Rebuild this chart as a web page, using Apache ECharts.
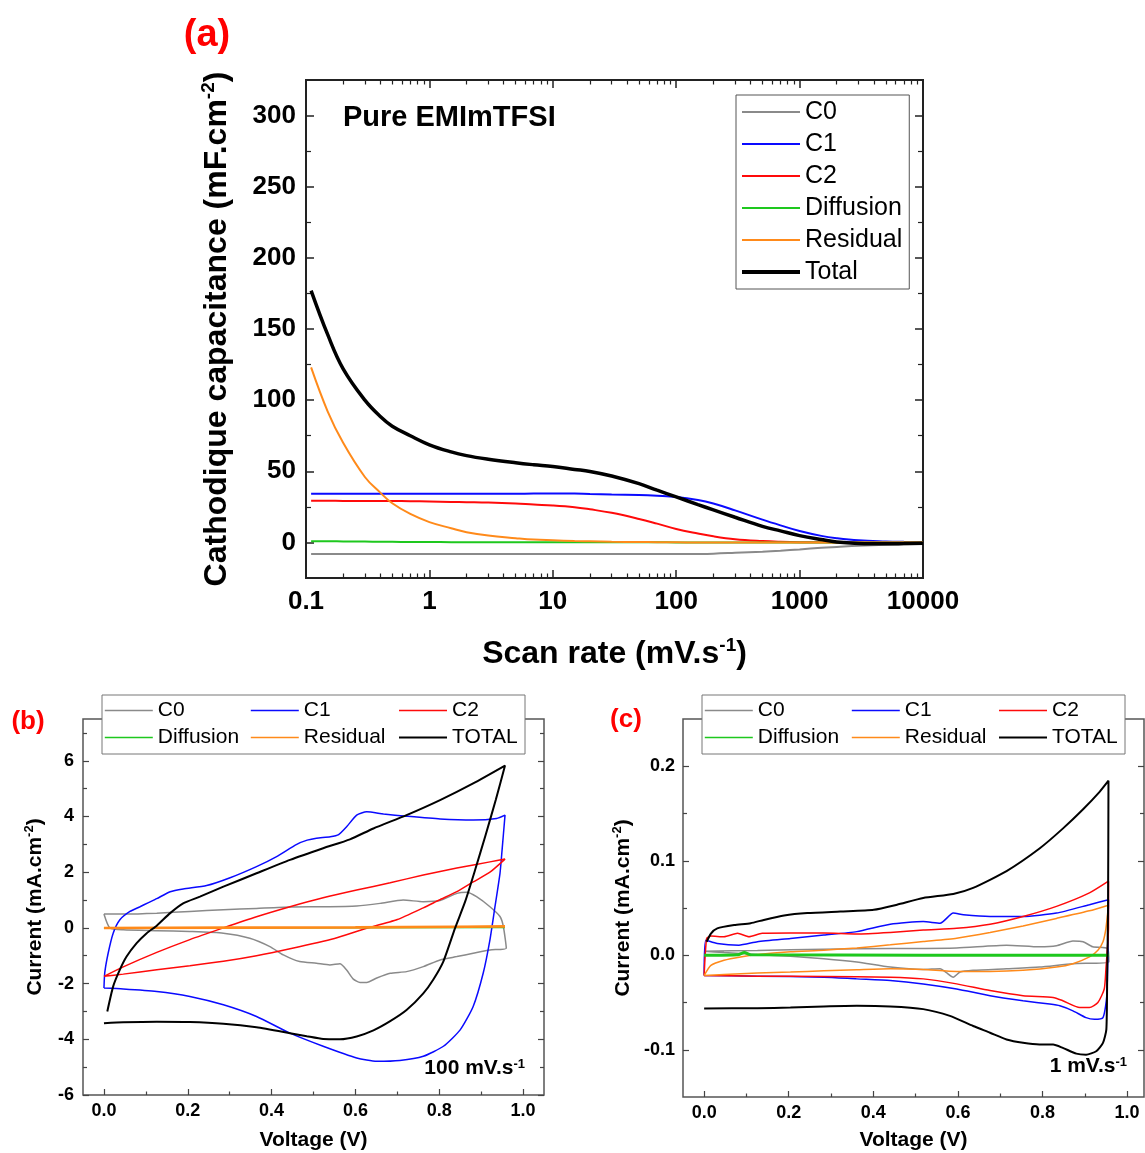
<!DOCTYPE html>
<html><head><meta charset="utf-8">
<script src="https://cdn.jsdelivr.net/npm/echarts@6/dist/echarts.min.js"></script>
<style>html,body{margin:0;padding:0;background:#fff}#chart{width:1145px;height:1153px}</style>
</head><body><div id="chart"></div>
<script>
const FONT = '"Liberation Sans", Arial, Helvetica, sans-serif';

// ---------- Panel (a): capacitance vs scan rate ----------
const scanRates = [0.11,0.15,0.2,0.3,0.4,0.5,0.7,1,1.5,2,3,5,7,10,15,20,30,50,70,100,150,200,300,500,700,1000,1500,2000,3000,5000,7000,10000];
const a_C0   = [-8.2,-8.2,-8.2,-8.2,-8.2,-8.2,-8.2,-8.2,-8.2,-8.2,-8.2,-8.2,-8.2,-8.2,-8.2,-8.2,-8.2,-8.2,-8.2,-8.2,-8.1,-7.9,-7.3,-6.5,-5.8,-4.9,-3.8,-3.2,-2.4,-1.7,-1.3,-0.9];
const a_C1   = [34.2,34.2,34.2,34.2,34.2,34.2,34.2,34.2,34.2,34.2,34.2,34.2,34.3,34.4,34.3,34.0,33.7,33.3,32.8,32.0,29.8,27.3,22.5,16.0,12.0,8.0,4.6,3.0,1.5,0.7,0.4,0.2];
const a_C2   = [29.3,29.3,29.2,29.2,29.1,29.1,29.0,28.8,28.5,28.3,28.0,27.3,26.6,26.0,24.8,23.3,20.8,16.5,13.2,9.5,6.3,4.3,2.3,1.0,0.5,0.2,0.1,0,0,0,0,0];
const a_Diff = [0.8,0.8,0.7,0.6,0.5,0.4,0.3,0.3,0.2,0.2,0.2,0.1,0.1,0.1,0.1,0.1,0.1,0.1,0.1,0,0,0,0,0,0,0,0,0,0,0,0,0];
const a_Res  = [123,92,70,46,35,27.5,20,14.3,10,7.2,4.8,3.0,2.0,1.5,1.0,0.8,0.5,0.3,0.2,0.1,0,0,0,0,0,0,0,0,0,0,0,0];
const a_Tot  = [177,146,122,100,88.5,81.7,75,68.6,63.6,61,58.5,56,54.6,53.3,51.3,49.9,46.7,41.3,36.7,32,26.6,22.9,17.7,11.3,8.1,4.8,2.0,0.3,-0.7,-1,-0.8,-0.5];
const aXMajor = [0.1,1,10,100,1000,10000];
const aYMajor = [0,50,100,150,200,250,300];
const aYMinor = [25,75,125,175,225,275];

// ---------- Panel (b): CV at 100 mV/s, [V, I] ----------
const b_C0 = [[0,0.50],[0.05,0.50],[0.126,0.53],[0.205,0.59],[0.285,0.65],[0.364,0.70],[0.444,0.75],[0.523,0.76],[0.603,0.79],[0.659,0.88],[0.714,1.0],[0.762,0.94],[0.802,0.98],[0.842,1.24],[0.866,1.28],[0.889,1.12],[0.921,0.76],[0.945,0.41],[0.953,0.05],[0.96,-0.73],
  [0.921,-0.79],[0.881,-0.91],[0.842,-1.03],[0.802,-1.15],[0.762,-1.39],[0.722,-1.57],[0.683,-1.63],[0.651,-1.80],[0.627,-1.96],[0.611,-1.96],[0.595,-1.84],[0.579,-1.51],[0.563,-1.29],[0.539,-1.33],[0.507,-1.27],[0.467,-1.21],[0.428,-0.97],[0.396,-0.67],[0.348,-0.37],[0.285,-0.19],[0.205,-0.13],[0.126,-0.10],[0.046,-0.07],[0.014,0],[0,0.50]];
const b_C1 = [[0,-2.16],[0.002,-1.6],[0.010,-0.91],[0.022,-0.19],[0.038,0.29],[0.062,0.59],[0.086,0.76],[0.105,0.9],[0.126,1.05],[0.158,1.30],[0.189,1.40],[0.245,1.52],[0.301,1.80],[0.364,2.20],[0.412,2.56],[0.46,3.0],[0.485,3.15],[0.507,3.22],[0.540,3.27],[0.560,3.35],[0.579,3.63],[0.603,4.05],[0.627,4.17],[0.667,4.09],[0.722,4.01],[0.802,3.91],[0.881,3.87],[0.937,3.93],[0.957,4.05],
  [0.950,2.8],[0.945,1.96],[0.933,0.76],[0.921,-0.43],[0.905,-1.62],[0.881,-2.82],[0.85,-3.66],[0.81,-4.25],[0.762,-4.61],[0.706,-4.76],[0.651,-4.79],[0.603,-4.67],[0.523,-4.25],[0.444,-3.78],[0.364,-3.18],[0.285,-2.76],[0.205,-2.46],[0.126,-2.28],[0.046,-2.19],[0,-2.16]];
const b_C2 = [[0,-1.74],[0.046,-1.4],[0.126,-0.88],[0.205,-0.42],[0.285,0.0],[0.364,0.4],[0.444,0.76],[0.523,1.08],[0.603,1.36],[0.683,1.62],[0.762,1.9],[0.842,2.15],[0.921,2.37],[0.957,2.47],
  [0.921,2.0],[0.881,1.65],[0.842,1.3],[0.8,1.0],[0.762,0.72],[0.7,0.3],[0.619,-0.05],[0.55,-0.38],[0.444,-0.75],[0.364,-1.0],[0.285,-1.2],[0.205,-1.36],[0.126,-1.5],[0.046,-1.66],[0,-1.74]];
const b_Diff = [[0,0],[0.957,0.01]];
const b_Res = [[0,0],[0.3,0.01],[0.6,0.02],[0.957,0.05],[0.6,0.01],[0,0]];
const b_Tot = [[0.008,-3.0],[0.022,-2.1],[0.038,-1.5],[0.054,-1.03],[0.078,-0.55],[0.102,-0.19],[0.126,0.08],[0.158,0.53],[0.189,0.88],[0.229,1.12],[0.285,1.48],[0.364,1.96],[0.444,2.44],[0.523,2.86],[0.587,3.18],[0.643,3.57],[0.722,4.05],[0.802,4.59],[0.881,5.19],[0.957,5.83],
  [0.935,4.6],[0.91,3.3],[0.885,2.05],[0.862,0.95],[0.838,0],[0.81,-1.2],[0.786,-1.85],[0.762,-2.35],[0.722,-2.95],[0.683,-3.35],[0.643,-3.68],[0.603,-3.9],[0.563,-4.0],[0.523,-3.99],[0.484,-3.89],[0.444,-3.78],[0.364,-3.57],[0.285,-3.44],[0.205,-3.38],[0.126,-3.37],[0.046,-3.39],[0,-3.42]];

// ---------- Panel (c): CV at 1 mV/s, [V, I] ----------
const c_C0 = [[0,0.0043],[0.126,0.005],[0.283,0.0064],[0.44,0.0071],[0.597,0.0078],[0.715,0.0107],[0.793,0.0089],[0.833,0.010],[0.872,0.015],[0.896,0.0143],[0.919,0.0089],[0.954,0.0071],[0.957,-0.0071],
  [0.872,-0.0089],[0.793,-0.0125],[0.715,-0.0143],[0.636,-0.016],[0.605,-0.0178],[0.589,-0.0232],[0.573,-0.0185],[0.558,-0.0143],[0.518,-0.015],[0.44,-0.0125],[0.361,-0.0071],[0.283,-0.0036],[0.204,-0.0011],[0.126,0.0007],[0.047,0.0029],[0,0.0043]];
const c_C1 = [[0,-0.0214],[0.004,0.016],[0.031,0.0125],[0.082,0.0107],[0.126,0.0143],[0.204,0.0178],[0.283,0.0214],[0.361,0.025],[0.44,0.0328],[0.518,0.0357],[0.558,0.0339],[0.589,0.0446],[0.613,0.0428],[0.676,0.041],[0.754,0.041],[0.833,0.0446],[0.911,0.0535],[0.956,0.0588],
  [0.955,0.0143],[0.952,-0.0428],[0.943,-0.066],[0.923,-0.0677],[0.903,-0.066],[0.872,-0.0588],[0.841,-0.0535],[0.817,-0.0517],[0.754,-0.0481],[0.676,-0.0428],[0.597,-0.0357],[0.518,-0.0303],[0.44,-0.0267],[0.361,-0.025],[0.283,-0.0232],[0.126,-0.0221],[0,-0.0214]];
const c_C2 = [[0,-0.0214],[0.006,0.0178],[0.016,0.0203],[0.047,0.0196],[0.079,0.0232],[0.106,0.0196],[0.137,0.0232],[0.204,0.0235],[0.283,0.0235],[0.361,0.0225],[0.44,0.0242],[0.518,0.0267],[0.597,0.0285],[0.676,0.0328],[0.754,0.041],[0.833,0.0517],[0.911,0.066],[0.956,0.0784],
  [0.956,0.0285],[0.95,-0.0143],[0.946,-0.0357],[0.931,-0.05],[0.911,-0.0553],[0.888,-0.0553],[0.848,-0.0481],[0.825,-0.0446],[0.754,-0.0428],[0.676,-0.0374],[0.597,-0.0303],[0.518,-0.025],[0.44,-0.0232],[0.283,-0.0225],[0.126,-0.0221],[0,-0.0214]];
const c_Diff = [[0,0],[0.08,0.0005],[0.095,0.003],[0.11,0.0005],[0.957,0]];
const c_Res = [[0,-0.0214],[0.016,-0.0107],[0.047,-0.0053],[0.086,-0.0018],[0.126,0.0007],[0.204,0.0036],[0.283,0.0053],[0.361,0.0078],[0.44,0.011],[0.518,0.0145],[0.597,0.018],[0.676,0.024],[0.754,0.031],[0.833,0.039],[0.911,0.047],[0.956,0.053],
  [0.95,0.0285],[0.943,0.0143],[0.931,0.0053],[0.911,-0.0018],[0.872,-0.0089],[0.833,-0.0125],[0.754,-0.016],[0.676,-0.0171],[0.597,-0.0171],[0.518,-0.015],[0.44,-0.0143],[0.361,-0.0153],[0.283,-0.0164],[0.204,-0.0178],[0.126,-0.0189],[0.047,-0.0203],[0,-0.0214]];
const c_Tot = [[0.006,0.0143],[0.016,0.023],[0.031,0.0285],[0.071,0.032],[0.11,0.0339],[0.141,0.0374],[0.189,0.042],[0.244,0.0446],[0.322,0.0463],[0.401,0.0481],[0.456,0.0535],[0.518,0.0606],[0.589,0.0649],[0.636,0.0713],[0.715,0.0891],[0.793,0.113],[0.848,0.134],[0.896,0.1545],[0.935,0.1729],[0.956,0.1847],
  [0.955,0.05],[0.953,-0.02],[0.951,-0.0784],[0.943,-0.0927],[0.927,-0.1016],[0.903,-0.1052],[0.88,-0.1041],[0.848,-0.098],[0.825,-0.0945],[0.793,-0.0945],[0.754,-0.0927],[0.715,-0.0891],[0.676,-0.082],[0.636,-0.0749],[0.581,-0.0642],[0.518,-0.057],[0.44,-0.0542],[0.361,-0.0535],[0.283,-0.0542],[0.204,-0.0553],[0.126,-0.056],[0,-0.0563]];

const vMajor = [0,0.2,0.4,0.6,0.8,1.0];
const vMinor = [0.1,0.3,0.5,0.7,0.9];
const bYMajor = [-6,-4,-2,0,2,4,6];
const bYMinor = [-5,-3,-1,1,3,5,7];
const cYMajor = [-0.1,0,0.1,0.2];
const cYMinor = [-0.05,0.05,0.15];

const COL = {C0:'#8a8a8a', C1:'#0a0aff', C2:'#ff0a0a', Diffusion:'#1ec81e', Residual:'#ff8a1a', Total:'#000000', TOTAL:'#000000'};

// log-axis minor tick positions (2..9 per decade)
const aXMinor = [];
[0.1,1,10,100,1000].forEach(d => { for (let k = 2; k <= 9; k++) aXMinor.push(+(k*d).toPrecision(6)); });

function mkAxis(o) {
  const ax = {
    gridIndex: o.grid, type: o.type || 'value', position: o.pos, min: o.min, max: o.max,
    axisLine: {show: false, onZero: false},
    splitLine: {show: false},
    axisTick: {show: true, inside: true, length: o.len, customValues: o.ticks, lineStyle: {color: o.color, width: o.tw}},
    axisLabel: o.labels ? {show: true, customValues: o.ticks, color: '#000', fontFamily: FONT, fontWeight: 'bold', fontSize: o.fs, margin: o.margin, formatter: o.fmt} : {show: false}
  };
  if (o.type === 'log') ax.logBase = 10;
  if (o.name) {
    ax.name = o.name; ax.nameLocation = 'middle'; ax.nameGap = o.nameGap;
    ax.nameTextStyle = {fontFamily: FONT, fontWeight: 'bold', fontSize: o.nfs, color: '#000', lineHeight: o.nfs * 1.15,
      rich: {sup: {fontFamily: FONT, fontWeight: 'bold', fontSize: Math.round(o.nfs * 0.6), color: '#000', verticalAlign: 'top', lineHeight: o.nfs * 1.15}}};
  }
  return ax;
}

const xAxes = [], yAxes = [];
const logFmt = v => String(parseFloat((+v).toPrecision(6)));
// panel a
xAxes.push(mkAxis({grid:0, type:'log', pos:'bottom', min:0.1, max:10000, ticks:aXMajor, len:8, color:'#222', tw:1.5, labels:true, fs:26, margin:11, fmt:logFmt, name:'Scan rate (mV.s{sup|-1})', nameGap:58, nfs:32}));
xAxes.push(mkAxis({grid:0, type:'log', pos:'bottom', min:0.1, max:10000, ticks:aXMinor, len:4.5, color:'#222', tw:1.2}));
xAxes.push(mkAxis({grid:0, type:'log', pos:'top', min:0.1, max:10000, ticks:aXMajor, len:8, color:'#222', tw:1.5}));
xAxes.push(mkAxis({grid:0, type:'log', pos:'top', min:0.1, max:10000, ticks:aXMinor, len:4.5, color:'#222', tw:1.2}));
yAxes.push(mkAxis({grid:0, pos:'left', min:-25, max:325, ticks:aYMajor, len:8, color:'#222', tw:1.5, labels:true, fs:26, margin:10, fmt: v => String(v), name:'Cathodique capacitance (mF.cm{sup|-2})', nameGap:70, nfs:32}));
yAxes.push(mkAxis({grid:0, pos:'left', min:-25, max:325, ticks:aYMinor, len:5, color:'#222', tw:1.2}));
yAxes.push(mkAxis({grid:0, pos:'right', min:-25, max:325, ticks:aYMajor, len:8, color:'#222', tw:1.5}));
yAxes.push(mkAxis({grid:0, pos:'right', min:-25, max:325, ticks:aYMinor, len:5, color:'#222', tw:1.2}));
// panel b
xAxes.push(mkAxis({grid:1, pos:'bottom', min:-0.05, max:1.05, ticks:vMajor, len:6, color:'#444', tw:1.2, labels:true, fs:18, margin:7, fmt: v => (+v).toFixed(1), name:'Voltage (V)', nameGap:33, nfs:21}));
xAxes.push(mkAxis({grid:1, pos:'bottom', min:-0.05, max:1.05, ticks:vMinor, len:3.5, color:'#444', tw:1.2}));
yAxes.push(mkAxis({grid:1, pos:'left', min:-6, max:7.5, ticks:bYMajor, len:6, color:'#444', tw:1.2, labels:true, fs:18, margin:9, fmt: v => String(Math.round(v)), name:'Current (mA.cm{sup|-2})', nameGap:36, nfs:21}));
yAxes.push(mkAxis({grid:1, pos:'left', min:-6, max:7.5, ticks:bYMinor, len:4, color:'#444', tw:1.2}));
yAxes.push(mkAxis({grid:1, pos:'right', min:-6, max:7.5, ticks:bYMajor, len:6, color:'#444', tw:1.2}));
yAxes.push(mkAxis({grid:1, pos:'right', min:-6, max:7.5, ticks:bYMinor, len:4, color:'#444', tw:1.2}));
// panel c
xAxes.push(mkAxis({grid:2, pos:'bottom', min:-0.05, max:1.04, ticks:vMajor, len:6, color:'#444', tw:1.2, labels:true, fs:18, margin:7, fmt: v => (+v).toFixed(1), name:'Voltage (V)', nameGap:31, nfs:21}));
xAxes.push(mkAxis({grid:2, pos:'bottom', min:-0.05, max:1.04, ticks:vMinor, len:3.5, color:'#444', tw:1.2}));
yAxes.push(mkAxis({grid:2, pos:'left', min:-0.15, max:0.25, ticks:cYMajor, len:6, color:'#444', tw:1.2, labels:true, fs:18, margin:8, fmt: v => (+v).toFixed(1), name:'Current (mA.cm{sup|-2})', nameGap:48, nfs:21}));
yAxes.push(mkAxis({grid:2, pos:'left', min:-0.15, max:0.25, ticks:cYMinor, len:4, color:'#444', tw:1.2}));
yAxes.push(mkAxis({grid:2, pos:'right', min:-0.15, max:0.25, ticks:cYMajor, len:6, color:'#444', tw:1.2}));
yAxes.push(mkAxis({grid:2, pos:'right', min:-0.15, max:0.25, ticks:cYMinor, len:4, color:'#444', tw:1.2}));

function line(name, data, xi, yi, width, smooth, z) {
  return {type:'line', name, data, xAxisIndex:xi, yAxisIndex:yi, symbol:'none', showSymbol:false, smooth: smooth,
    lineStyle:{color:COL[name], width}, itemStyle:{color:COL[name]}, z: z || 2, animation:false, silent:true};
}
const zipA = arr => scanRates.map((r, i) => [r, arr[i]]);

const series = [
  line('C0', zipA(a_C0), 0, 0, 2, 0.4),
  line('C1', zipA(a_C1), 0, 0, 2, 0.4),
  line('C2', zipA(a_C2), 0, 0, 2, 0.4),
  line('Diffusion', zipA(a_Diff), 0, 0, 2, 0.4),
  line('Residual', zipA(a_Res), 0, 0, 2, 0.4),
  line('Total', zipA(a_Tot), 0, 0, 3.5, 0.4, 3),

  line('C0', b_C0, 4, 4, 1.5, 0.2),
  line('C1', b_C1, 4, 4, 1.5, 0.2),
  line('C2', b_C2, 4, 4, 1.5, 0.2),
  line('Diffusion', b_Diff, 4, 4, 1.5, false),
  line('Residual', b_Res, 4, 4, 2.5, false),
  line('TOTAL', b_Tot, 4, 4, 2, 0.2, 3),

  line('C0', c_C0, 6, 8, 1.5, 0.2),
  line('C1', c_C1, 6, 8, 1.5, 0.2),
  line('C2', c_C2, 6, 8, 1.5, 0.2),
  line('Residual', c_Res, 6, 8, 1.5, 0.2),
  line('Diffusion', c_Diff, 6, 8, 3, 0.2),
  line('TOTAL', c_Tot, 6, 8, 2, 0.2, 3)
];

const legItem = (name, w) => ({name, lineStyle: {width: w, color: COL[name]}});

function smallLegend(names, left) {
  return {data: names.map(n => legItem(n, n === 'TOTAL' ? 2 : 1.6)), orient:'vertical', left, top: 697, itemWidth: 48, itemHeight: 10, itemGap: 0, padding: 0,
    selectedMode: false, z: 60, itemStyle: {opacity: 0},
    textStyle: {fontFamily: FONT, fontSize: 21, lineHeight: 27, color: '#000'}};
}

const supRich = fs => ({sup: {fontFamily: FONT, fontWeight: 'bold', fontSize: fs, fill: '#000', verticalAlign: 'top'}});

const option = {
  animation: false,
  backgroundColor: '#fff',
  grid: [
    {left: 306, top: 80, width: 617, height: 498, show: true, borderColor: '#222', borderWidth: 2, backgroundColor: '#fff', containLabel: false, outerBoundsMode: 'none'},
    {left: 83, top: 719, width: 461, height: 376, show: true, borderColor: '#555', borderWidth: 1.5, backgroundColor: '#fff', containLabel: false, outerBoundsMode: 'none'},
    {left: 683, top: 719, width: 461, height: 378, show: true, borderColor: '#555', borderWidth: 1.5, backgroundColor: '#fff', containLabel: false, outerBoundsMode: 'none'}
  ],
  xAxis: xAxes,
  yAxis: yAxes,
  legend: [
    {data: ['C0','C1','C2','Diffusion','Residual','Total'].map(n => legItem(n, n === 'Total' ? 4 : 2.2)), orient: 'vertical', left: 736, top: 95, itemWidth: 58, itemHeight: 12, itemGap: 0,
      padding: [1, 7, 1, 4], borderColor: '#555', borderWidth: 1, backgroundColor: '#fff', selectedMode: false, z: 60, itemStyle: {opacity: 0},
      textStyle: {fontFamily: FONT, fontSize: 25, lineHeight: 32, color: '#000'}},
    smallLegend(['C0','Diffusion'], 104),
    smallLegend(['C1','Residual'], 250),
    smallLegend(['C2','TOTAL'], 398),
    smallLegend(['C0','Diffusion'], 704),
    smallLegend(['C1','Residual'], 851),
    smallLegend(['C2','TOTAL'], 998)
  ],
  graphic: {elements: [
    {type:'rect', z: 50, shape:{x:102, y:695, width:423, height:59}, style:{fill:'#fff', stroke:'#777', lineWidth:1}},
    {type:'rect', z: 50, shape:{x:702, y:695, width:423, height:59}, style:{fill:'#fff', stroke:'#777', lineWidth:1}},
    {type:'text', z: 50, x: 207, y: 36, style:{text:'(a)', fill:'#ff0000', fontFamily: FONT, fontWeight:'bold', fontSize: 38, align:'center', verticalAlign:'middle', textAlign:'center', textVerticalAlign:'middle'}},
    {type:'text', z: 50, x: 28, y: 722, style:{text:'(b)', fill:'#ff0000', fontFamily: FONT, fontWeight:'bold', fontSize: 26, align:'center', verticalAlign:'middle', textAlign:'center', textVerticalAlign:'middle'}},
    {type:'text', z: 50, x: 626, y: 720, style:{text:'(c)', fill:'#ff0000', fontFamily: FONT, fontWeight:'bold', fontSize: 26, align:'center', verticalAlign:'middle', textAlign:'center', textVerticalAlign:'middle'}},
    {type:'text', z: 50, x: 343, y: 118, style:{text:'Pure EMImTFSI', fill:'#000', fontFamily: FONT, fontWeight:'bold', fontSize: 29, align:'left', verticalAlign:'middle', textAlign:'left', textVerticalAlign:'middle'}},
    {type:'text', z: 50, x: 525, y: 1068, style:{text:'100 mV.s{sup|-1}', rich: supRich(13), fill:'#000', fontFamily: FONT, fontWeight:'bold', fontSize: 21, align:'right', verticalAlign:'middle', textAlign:'right', textVerticalAlign:'middle'}},
    {type:'text', z: 50, x: 1127, y: 1066, style:{text:'1 mV.s{sup|-1}', rich: supRich(13), fill:'#000', fontFamily: FONT, fontWeight:'bold', fontSize: 21, align:'right', verticalAlign:'middle', textAlign:'right', textVerticalAlign:'middle'}}
  ]},
  series
};

const chart = echarts.init(document.getElementById('chart'), null, {renderer: 'canvas'});
chart.setOption(option);
</script></body></html>
